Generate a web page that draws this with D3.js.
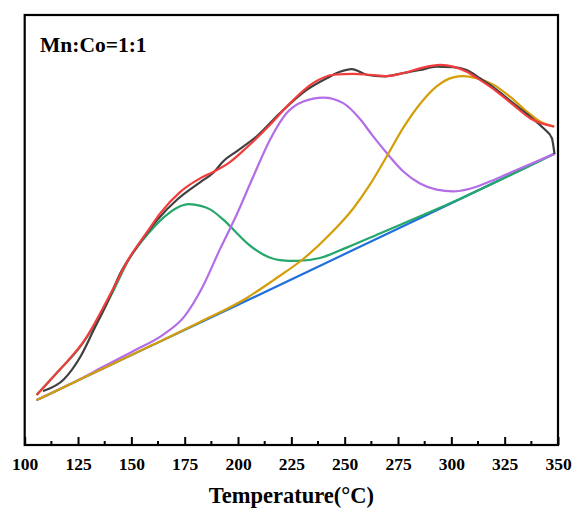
<!DOCTYPE html>
<html>
<head>
<meta charset="utf-8">
<script src="https://cdn.jsdelivr.net/npm/d3@7"></script>
<style>
  body { margin: 0; background: #fff; }
  svg text { font-family: "Liberation Serif", "Times New Roman", serif; font-weight: bold; fill: #000; }
</style>
</head>
<body>
<div id="chart"></div>
<script>
// temperature (°C) / intensity (a.u.) pairs
var measured = [[109,12.6],[118.4,15.3],[126.3,20.7],[132.5,26.9],[138.7,33.1],[145,40.1],[152.8,46.2],
  [162.2,52.4],[171.5,57.1],[182.2,61.1],[188.4,63.3],[193.1,66],[199.4,68.3],[208.8,71.8],[219.7,77.2],
  [232.2,82.6],[241.6,85.3],[247.8,86.8],[253.3,87.4],[260.3,86.1],[268.1,85.7],[277.5,86.5],[285.3,87.2],
  [293.1,88],[300.9,87.9],[307.2,87.2],[313.4,85.3],[321.3,82.6],[329,79.5],[336.9,76.4],[343.1,73.7],
  [347.1,71.4],[348.3,67.9]];

var fitSum = [[105.9,11.8],[115.3,16.9],[128.6,24.8],[141.1,36],[148.9,43.4],[157.5,49.6],[163.4,53.8],
  [172.8,58.8],[182.2,62],[188.4,63.5],[196.2,65.8],[204.1,69.2],[215,74.5],[224.4,79.5],
  [235.3,84.2],[244.7,86.1],[254,86.3],[261.9,86.1],[269.7,85.8],[277.5,86.5],[285.3,87.6],[294.8,88.4],
  [300.9,88],[307.2,86.8],[313.4,84.9],[321.3,82.2],[329,79.1],[336.9,76],[347.8,74.1]];

var peak1 = [[105.9,11.8],[115.3,16.9],[126.3,23],[141.1,35.4],[148.9,43.2],[158.3,49.4],
  [165.3,53],[171.5,55.2],[177,56],[182.5,55.6],[186.9,54.8],[193.1,52.4],[198.6,49.7],[204.1,47],[211.8,44.3],
  [219.7,43],[227.5,42.8],[238.4,43.5],[250.9,45.9],[266.5,49.2],[299.4,56.2],[348.1,67.7]];

var peak2 = [[105.9,10.5],[125.9,15.3],[137.2,18.3],[151.2,21.9],[165.3,25.8],[174.7,29.8],[183,36.4],
  [191.5,45.5],[199.4,53.6],[207.2,62.5],[215,71],[222.8,77.2],[230.6,79.9],[240,80.8],[249.3,79.5],
  [257.2,75.8],[263,72],[269.7,67.9],[277.5,63.6],[285.3,60.8],[293.1,59.4],[300.9,59],[308.7,59.6],
  [316.6,61],[324.3,62.6],[332.2,64.3],[348.3,67.7]];

var peak3 = [[105.9,10.5],[130,16.2],[160,23.3],[182.2,28.6],[204.1,34.2],[216.5,38.3],[231.4,43.6],
  [243.1,49],[254,55],[261.9,60.6],[269.7,67.1],[277.5,73.8],[285.3,79.3],[293.1,83.4],[300.9,85.5],
  [305.6,85.8],[311.9,85.3],[319.7,83.8],[327.5,81],[335.3,77.6],[341.8,75.2],[347.8,74.1]];

var baseline = [[105.9,10.5],[150,20.9],[200,32.6],[250,44.4],[300,56.2],[348.1,67.7]];

var majorTicks = [100,125,150,175,200,225,250,275,300,325,350];
var minorTicks = [112.5,137.5,162.5,187.5,212.5,237.5,262.5,287.5,312.5,337.5];

var W = 573, H = 508;
var margin = {left: 24.7, right: 558, top: 15, bottom: 445};

var svg = d3.select("#chart").append("svg")
    .attr("width", W)
    .attr("height", H);

var x = d3.scaleLinear().domain([100, 350]).range([margin.left, margin.right]);
var y = d3.scaleLinear().domain([0, 100]).range([margin.bottom, margin.top]);

var line = d3.line()
    .x(function(d) { return x(d[0]); })
    .y(function(d) { return y(d[1]); })
    .curve(d3.curveMonotoneX);

// curves, back to front
var series = [
    {data: baseline, color: "#1f6fdc"},
    {data: peak1, color: "#24a76a"},
    {data: peak2, color: "#b36de6"},
    {data: peak3, color: "#d49e08"},
    {data: measured, color: "#404040"},
    {data: fitSum, color: "#f23c3c"}
];

svg.selectAll(".curve")
    .data(series)
    .enter().append("path")
    .attr("class", "curve")
    .attr("d", function(d) { return line(d.data); })
    .attr("fill", "none")
    .attr("stroke", function(d) { return d.color; })
    .attr("stroke-width", 2.2)
    .attr("stroke-linejoin", "round")
    .attr("stroke-linecap", "round");

// frame
svg.append("rect")
    .attr("x", margin.left).attr("y", margin.top)
    .attr("width", margin.right - margin.left).attr("height", margin.bottom - margin.top)
    .attr("fill", "none")
    .attr("stroke", "#000")
    .attr("stroke-width", 2.2);

// inward ticks on the bottom axis
var axis = d3.axisBottom(x)
    .tickValues(majorTicks)
    .tickSizeInner(-8)
    .tickSizeOuter(0)
    .tickPadding(13);

var gx = svg.append("g")
    .attr("transform", "translate(0," + margin.bottom + ")")
    .call(axis);
gx.select(".domain").remove();
gx.selectAll(".tick line").attr("stroke", "#000").attr("stroke-width", 2);
gx.selectAll(".tick text")
    .attr("font-size", 17.5)
    .attr("font-family", null);

svg.append("g").selectAll("line")
    .data(minorTicks)
    .enter().append("line")
    .attr("x1", function(d) { return x(d); })
    .attr("x2", function(d) { return x(d); })
    .attr("y1", margin.bottom)
    .attr("y2", margin.bottom - 4)
    .attr("stroke", "#000")
    .attr("stroke-width", 2);

svg.append("text")
    .attr("x", (margin.left + margin.right) / 2)
    .attr("y", 503)
    .attr("text-anchor", "middle")
    .attr("font-size", 22.5)
    .text("Temperature(°C)");

svg.append("text")
    .attr("x", 40)
    .attr("y", 52)
    .attr("font-size", 21.5)
    .text("Mn:Co=1:1");
</script>
</body>
</html>
